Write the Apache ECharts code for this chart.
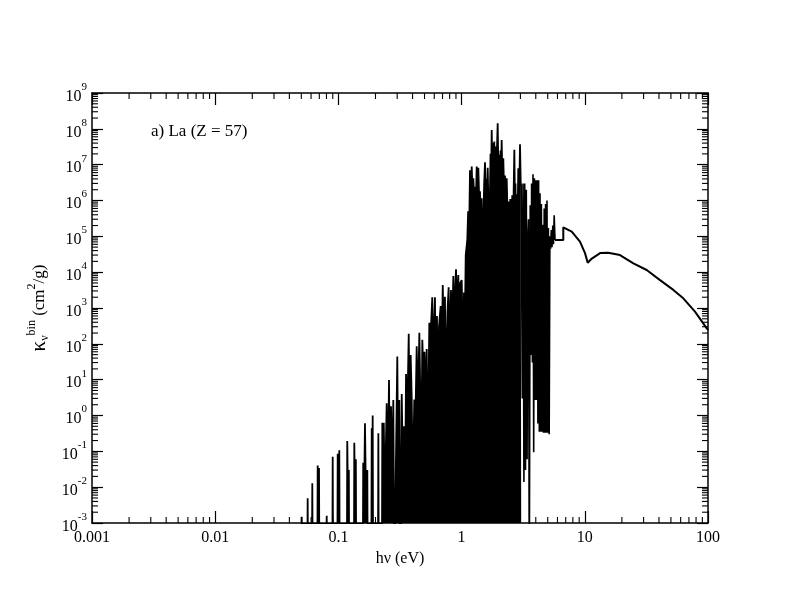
<!DOCTYPE html>
<html>
<head>
<meta charset="utf-8">
<script src="https://cdn.jsdelivr.net/npm/echarts@6/dist/echarts.min.js"></script>
<style>
html,body{margin:0;padding:0;background:#fff;}
#chart{width:797px;height:616px;}
</style>
</head>
<body>
<div id="chart"></div>
<script>
// ---------- data ----------
const xTickLabels = ['0.001', '0.01', '0.1', '1', '10', '100'];
const yTickExponents = ['-3', '-2', '-1', '0', '1', '2', '3', '4', '5', '6', '7', '8', '9'];
const minorMultipliers = [2, 3, 4, 5, 6, 7, 8, 9];
const annotationText = 'a) La (Z = 57)';
const xAxisTitle = 'hν (eV)';

// [photon energy (eV), kappa (cm^2/g)] — isolated lines at low energy
const sparseLines = [
  [0.0499,1e-5],[0.0504,0.0015],[0.0509,1e-5],
  [0.0558,1e-5],[0.0563,0.0049],[0.0568,1e-5],
  [0.0608,1e-5],[0.0614,0.0128],[0.0620,1e-5],
  [0.0673,1e-5],[0.0679,0.040],[0.0688,0.003],[0.0696,0.034],[0.0702,1e-5],
  [0.0797,1e-5],[0.0804,0.0016],[0.0811,1e-5],
  [0.0891,1e-5],[0.0899,0.071],[0.0907,1e-5],
  [0.0979,1e-5],[0.0987,0.086],[0.1002,0.004],[0.1017,0.107],[0.1026,1e-5],
  [0.1170,1e-5],[0.1180,0.195],[0.1200,0.002],[0.1215,0.03],[0.1226,1e-5],
  [0.1335,1e-5],[0.1346,0.174],[0.1368,0.003],[0.1385,0.06],[0.1397,1e-5],
  [0.1576,1e-5],[0.1590,0.048],[0.1615,0.004],[0.1643,0.61],[0.1680,0.002],[0.1717,0.030],[0.1732,1e-5],
  [0.1848,1e-5],[0.1864,0.44],[0.1880,0.01],[0.1898,1.0],[0.1915,1e-5],
  [0.2092,1e-5],[0.2110,0.32],[0.2128,1e-5],
  [0.2252,1e-5],[0.2272,0.63],[0.2300,0.01],[0.2335,0.63],[0.2380,0.004],[0.2466,2.2],[0.2515,0.01],
  [0.2575,9.8],[0.2620,0.003],[0.2673,1.8],[0.2730,0.02],[0.2790,2.7],[0.2850,1e-5],[0.2930,0.05],
  [0.3007,44],[0.3060,0.01],[0.3120,2.7],[0.3190,1e-5],[0.3266,4.0],[0.3330,0.05],[0.3400,0.5],
  [0.3470,0.003],[0.3540,14.4],[0.3620,0.8],[0.3723,190],[0.3790,0.2],[0.3860,49],[0.3935,3.3],
  [0.4010,0.01],[0.4130,2.8],[0.4200,0.3],[0.4320,85],[0.4410,1.5],[0.4540,205],[0.4620,4],
  [0.4690,0.02],[0.4800,130],[0.4900,10],[0.5000,60],[0.5100,2],[0.5210,72],[0.5300,0.05],
  [0.5470,390],[0.5550,12],[0.5650,330],[0.5780,2000],[0.5900,40],[0.6080,2000],[0.6150,5],
  [0.6310,600],[0.6450,0.1],[0.6550,300],[0.6760,1140],[0.6880,20],[0.7030,4400],[0.7180,150],
  [0.7330,2070],[0.7450,0.5],[0.7570,120],[0.7680,800],[0.7850,3800],[0.8000,40],[0.8200,3200],
  [0.8350,200],[0.8570,7800],[0.8750,1],[0.8850,3000]
];

// dense, blended band of lines
const denseBand = [
  [0.9010,12000],[0.9150,900],[0.9400,8300],[0.9600,100],[0.9750,5000],[1.0020,6000],[1.0200,200],
  [1.0360,19],[1.0450,2700],[1.0560,50],[1.0800,3e4],[1.1120,8e4],[1.1300,5e5],[1.1550,3e5],
  [1.1700,7e6],[1.1900,6e5],[1.2080,8.9e6],[1.2250,2e6],[1.2450,4.2e6],[1.2650,1.2e6],[1.2850,2.4e6],
  [1.3050,8e5],[1.3260,8.9e6],[1.3450,3e6],[1.3670,8.2e6],[1.3900,1e6],[1.4100,1.8e6],[1.4300,4e5],
  [1.4550,1.16e6],[1.4800,1e3],[1.5000,2.6e5],[1.5250,3e6],[1.5490,1.17e7],[1.5650,2e6],[1.5860,4e6],
  [1.6050,1e6],[1.6290,8.2e6],[1.6550,5e5],[1.6790,1.2e5],[1.7000,2e6],[1.7170,2e7],[1.7350,3e6],
  [1.7550,9.3e7],[1.7800,6e6],[1.8080,4e7],[1.8250,8e6],[1.8420,4.4e7],[1.8600,5e6],[1.8740,2.5e7],
  [1.8900,7e6],[1.9010,3.2e7],[1.9200,1e7],[1.9630,1.43e8],[1.9900,5e6],[2.0230,1.9e7],[2.0450,3e6],
  [2.0690,2.5e7],[2.0900,6e6],[2.1150,4.9e7],[2.1450,3e6],[2.1800,1.5e7],[2.2150,1.5e6],[2.2500,5e6],
  [2.2900,8e5],[2.3230,4.2e6],[2.3600,4e5],[2.3930,9.4e5],[2.4400,2e5],[2.4840,1.1e6],[2.5300,3e5],
  [2.5800,1.4e6],[2.6300,5e5],[2.6790,2.6e7],[2.7100,1e6],[2.7370,3e6],[2.7680,2.1e5],[2.8000,1.5e6],
  [2.8500,4e5],[2.8850,8e6],[2.9300,1e6],[2.9790,3.7e7],[3.0200,3e6],[3.0460,2.7e6]
];

// lines near the photo-ionisation edge (do not reach the floor)
const edgeLines = [
  [3.046,2.7e6],[3.110,3.0],[3.151,3e6],[3.205,0.014],[3.253,3e6],[3.302,0.03],[3.351,2e6],
  [3.401,0.06],[3.440,7e4],[3.491,3e5],[3.544,1e-5],[3.604,7.4e5],[3.659,49],[3.700,3e6],
  [3.756,30],[3.798,5.4e6],[3.848,0.095],[3.898,4.2e6],[3.949,2.7],[4.002,3.7e6],[4.055,2.7],
  [4.109,3.7e6],[4.163,0.6],[4.217,3.7e6],[4.273,0.35],[4.329,1.6e6],[4.385,0.35],[4.443,8e5],
  [4.501,0.35],[4.561,2.1e5],[4.621,0.33],[4.682,6e5],[4.743,0.33],[4.806,8e5],[4.869,0.33],
  [4.933,1e6],[4.998,0.33],[5.063,1.7e5],[5.140,0.3],[5.208,1e5],[5.276,4.5e4],[5.346,1.5e5],
  [5.416,5e4],[5.498,2e5],[5.569,6e4],[5.643,3.9e5],[5.730,7.9e4]
];

// bound-free continuum
const continuum = [
  [5.730,7.9e4],[6.69,7.9e4],[6.69,1.78e5],[7.83,1.35e5],[9.14,7.1e4],[10.04,3.4e4],[10.56,1.84e4],
  [11.4,2.4e4],[13.3,3.4e4],[15.5,3.5e4],[19.3,3.0e4],[24.8,1.77e4],[31.8,1.15e4],[40.8,6.0e3],
  [52.3,3.2e3],[63.0,1.86e3],[78.4,790],[97.7,270],[100,245]
];

// ---------- chart ----------
const FONT = '"Liberation Serif", "DejaVu Serif", serif';
const xMajor = xTickLabels.map(Number);
const yMajor = yTickExponents.map(e => Math.pow(10, Number(e)));
const X_MIN = xMajor[0], X_MAX = xMajor[xMajor.length - 1];
const Y_MIN = yMajor[0], Y_MAX = yMajor[yMajor.length - 1];

const xMinor = [];
xMajor.slice(0, -1).forEach(d => minorMultipliers.forEach(m => xMinor.push([m * d, 1])));
const yMinor = [];
yMajor.slice(0, -1).forEach(d => minorMultipliers.forEach(m => yMinor.push([1, m * d])));

const MINOR_LEN = 6;
const tickStyle = { color: '#000', width: 1.2 };

function xMinorTick(params, api) {
  const v = api.value(0);
  const b = api.coord([v, Y_MIN]);
  const t = api.coord([v, Y_MAX]);
  return { type: 'group', children: [
    { type: 'line', shape: { x1: b[0], y1: b[1], x2: b[0], y2: b[1] - MINOR_LEN }, style: { stroke: '#000', lineWidth: 1.1 } },
    { type: 'line', shape: { x1: t[0], y1: t[1], x2: t[0], y2: t[1] + MINOR_LEN }, style: { stroke: '#000', lineWidth: 1.1 } }
  ]};
}
function yMinorTick(params, api) {
  const v = api.value(1);
  const l = api.coord([X_MIN, v]);
  const r = api.coord([X_MAX, v]);
  return { type: 'group', children: [
    { type: 'line', shape: { x1: l[0], y1: l[1], x2: l[0] + MINOR_LEN, y2: l[1] }, style: { stroke: '#000', lineWidth: 1.1 } },
    { type: 'line', shape: { x1: r[0], y1: r[1], x2: r[0] - MINOR_LEN, y2: r[1] }, style: { stroke: '#000', lineWidth: 1.1 } }
  ]};
}

function xAxisDef(pos, showLabel) {
  return {
    type: 'log', logBase: 10, min: X_MIN, max: X_MAX, position: pos,
    axisLine: { show: true, onZero: false, lineStyle: { color: '#000', width: 1.5 } },
    axisTick: { show: true, inside: true, length: 12, lineStyle: tickStyle, customValues: xMajor },
    axisLabel: {
      show: showLabel, customValues: xMajor, margin: 7,
      fontFamily: FONT, fontSize: 16, color: '#000',
      formatter: v => xTickLabels[Math.round(Math.log10(v)) + 3]
    },
    splitLine: { show: false },
    name: showLabel ? xAxisTitle : '',
    nameLocation: 'middle', nameGap: 16,
    nameTextStyle: { fontFamily: FONT, fontSize: 16, color: '#000' }
  };
}
function yAxisDef(pos, showLabel) {
  return {
    type: 'log', logBase: 10, min: Y_MIN, max: Y_MAX, position: pos,
    axisLine: { show: true, onZero: false, lineStyle: { color: '#000', width: 1.5 } },
    axisTick: { show: true, inside: true, length: 11, lineStyle: tickStyle, customValues: yMajor },
    axisLabel: {
      show: showLabel, customValues: yMajor, margin: 5,
      color: '#000',
      formatter: v => '{b|10}{e|' + yTickExponents[Math.round(Math.log10(v)) + 3] + '}',
      rich: {
        b: { fontFamily: FONT, fontSize: 16, color: '#000', padding: [7, 0, 0, 0] },
        e: { fontFamily: FONT, fontSize: 11, color: '#000', padding: [0, 0, 12, 0] }
      }
    },
    splitLine: { show: false },
    name: showLabel ? '{k|κ}{s|ν}{p|bin}{t| (cm}{p|2}{t|/g)}' : '',
    nameLocation: 'middle', nameGap: 39, nameRotate: 90,
    nameTextStyle: {
      fontFamily: FONT, fontSize: 17, color: '#000',
      rich: {
        k: { fontFamily: FONT, fontSize: 21, color: '#000' },
        s: { fontFamily: FONT, fontSize: 12, color: '#000', padding: [10, 0, 0, 0] },
        p: { fontFamily: FONT, fontSize: 12, color: '#000', padding: [0, 0, 15, 0] },
        t: { fontFamily: FONT, fontSize: 17, color: '#000' }
      }
    }
  };
}

const chart = echarts.init(document.getElementById('chart'), null, { renderer: 'canvas' });
chart.setOption({
  animation: false,
  backgroundColor: '#fff',
  grid: { left: 92, top: 93, width: 616, height: 430, containLabel: false },
  xAxis: [xAxisDef('bottom', true), xAxisDef('top', false)],
  yAxis: [yAxisDef('left', true), yAxisDef('right', false)],
  graphic: [{
    type: 'text', left: 151, top: 123,
    style: { text: annotationText, font: '17px ' + FONT, fill: '#000' }
  }],
  series: [
    {
      type: 'line', name: 'lines', xAxisIndex: 0, yAxisIndex: 0,
      data: sparseLines.concat(denseBand),
      showSymbol: false, symbol: 'none', clip: true,
      lineStyle: { color: '#000', width: 1.8 },
      areaStyle: { color: '#000', opacity: 1 },
      silent: true, z: 3
    },
    {
      type: 'line', name: 'edge', xAxisIndex: 0, yAxisIndex: 0,
      data: edgeLines, showSymbol: false, symbol: 'none', clip: true,
      lineStyle: { color: '#000', width: 1.6 }, silent: true, z: 3
    },
    {
      type: 'line', name: 'continuum', xAxisIndex: 0, yAxisIndex: 0,
      data: continuum, showSymbol: false, symbol: 'none', clip: true,
      lineStyle: { color: '#000', width: 2 }, silent: true, z: 3
    },
    {
      type: 'custom', coordinateSystem: 'cartesian2d', xAxisIndex: 0, yAxisIndex: 0,
      data: xMinor, encode: { x: 0, y: 1 }, renderItem: xMinorTick, clip: false, silent: true, z: 6
    },
    {
      type: 'custom', coordinateSystem: 'cartesian2d', xAxisIndex: 0, yAxisIndex: 0,
      data: yMinor, encode: { x: 0, y: 1 }, renderItem: yMinorTick, clip: false, silent: true, z: 6
    }
  ]
});
</script>
</body>
</html>
